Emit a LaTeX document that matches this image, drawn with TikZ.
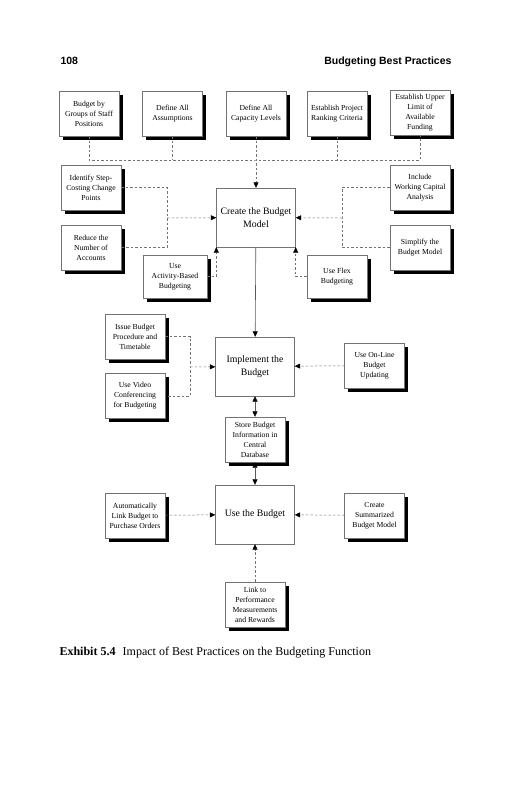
\documentclass[tikz,border=0pt]{standalone}
\usepackage{fontspec}
\setmainfont{Liberation Serif}
\newfontfamily\headfont{Liberation Sans}
\usetikzlibrary{arrows.meta,shadows}

\begin{document}
\begin{tikzpicture}[x=1pt,y=-1pt]
\tikzset{
  practice/.style={rectangle,draw=black!55,line width=0.4pt,fill=white,minimum width=60pt,minimum height=45pt,align=center,inner sep=1pt,font=\fontsize{7.7}{10}\selectfont,
    drop shadow={shadow xshift=3.5pt,shadow yshift=-3.5pt,opacity=1,fill=black}},
  stage/.style={rectangle,draw=black!55,line width=0.4pt,fill=white,minimum width=79pt,minimum height=59pt,align=center,inner sep=1pt,font=\fontsize{9.8}{13}\selectfont},
  dashline/.style={draw=black!55,line width=0.5pt,dash pattern=on 2.5pt off 2pt},
  dasharrow/.style={dashline,-{Triangle[length=5.5pt,width=5pt,black]}},
  solidarrow/.style={draw=black!65,line width=0.6pt,-{Triangle[length=5.5pt,width=5pt,black]}},
  twoway/.style={draw=black!65,line width=0.6pt,{Triangle[length=5.5pt,width=5pt,black]}-{Triangle[length=5.5pt,width=5pt,black]}}
}
\useasboundingbox (0,0) rectangle (531,800);
\node[anchor=base west,font=\headfont\bfseries\fontsize{10.5}{12}\selectfont] (n_page) at (57,64) {108};
\node[anchor=base east,font=\headfont\bfseries\fontsize{10.5}{12}\selectfont] (n_head) at (455,64) {Budgeting Best Practices};
\node[practice] (n_staff) at (89,113.5) {Budget by\\Groups of Staff\\Positions};
\node[practice] (n_assump) at (172.5,113.5) {Define All\\Assumptions};
\node[practice] (n_capacity) at (256,113.5) {Define All\\Capacity Levels};
\node[practice] (n_ranking) at (337,113.5) {Establish Project\\Ranking Criteria};
\node[practice] (n_funding) at (420,112.5) {Establish Upper\\Limit of\\Available\\Funding};
\node[stage] (n_create) at (256,217.5) {Create the Budget\\Model};
\node[practice] (n_step) at (91,187.5) {Identify Step-\\Costing Change\\Points};
\node[practice] (n_accounts) at (91,247.5) {Reduce the\\Number of\\Accounts};
\node[practice,minimum width=64pt,minimum height=43pt] (n_abc) at (175,276.5) {Use\\Activity-Based\\Budgeting};
\node[practice,minimum height=43pt] (n_flex) at (337,276.5) {Use Flex\\Budgeting};
\node[practice] (n_workcap) at (420,187.5) {Include\\Working Capital\\Analysis};
\node[practice] (n_simplify) at (420,247.5) {Simplify the\\Budget Model};
\node[stage] (n_implement) at (255,366.5) {Implement the\\Budget};
\node[practice] (n_issue) at (135,336.5) {Issue Budget\\Procedure and\\Timetable};
\node[practice] (n_video) at (135,396) {Use Video\\Conferencing\\for Budgeting};
\node[practice] (n_online) at (374.5,365.5) {Use On-Line\\Budget\\Updating};
\node[practice] (n_store) at (255,439.5) {Store Budget\\Information in\\Central\\Database};
\node[stage] (n_use) at (255,514.5) {Use the Budget};
\node[practice] (n_auto) at (135,515.5) {Automatically\\Link Budget to\\Purchase Orders};
\node[practice] (n_summary) at (374.5,515.5) {Create\\Summarized\\Budget Model};
\node[practice] (n_perf) at (255,604.5) {Link to\\Performance\\Measurements\\and Rewards};
\node[anchor=base west,font=\fontsize{12}{14}\selectfont] (n_caption) at (56,655) {\textbf{Exhibit 5.4}\hspace{0.6em}Impact of Best Practices on the Budgeting Function};
\coordinate (j_top) at (256,160);
\coordinate (j_left) at (167,218);
\coordinate (j_right) at (342,218);
\coordinate (j_impl) at (190,367);
\draw[dashline] (n_staff) |- (j_top) -| (n_funding);
\draw[dashline] (n_assump) -- (n_assump |- j_top);
\draw[dashline] (n_ranking) -- (n_ranking |- j_top);
\draw[dasharrow] (n_capacity) -- (n_create);
\draw[dashline] (n_step) -| (j_left) |- (n_accounts);
\draw[dasharrow] (j_left) -- (n_create);
\draw[dashline] (n_workcap) -| (j_right) |- (n_simplify);
\draw[dasharrow] (j_right) -- (n_create);
\draw[dasharrow] (n_abc.east) -| (n_create.south west);
\draw[dasharrow] (n_flex.west) -| (n_create.south east);
\draw[solidarrow] (n_create) -- (n_implement);
\draw[dashline] (n_issue) -| (j_impl) |- (n_video);
\draw[dasharrow] (j_impl) -- (n_implement);
\draw[dasharrow] (n_online) -- (n_implement);
\draw[twoway] (n_implement) -- (n_store);
\draw[twoway] (n_store) -- (n_use);
\draw[dasharrow] (n_auto) -- (n_use);
\draw[dasharrow] (n_summary) -- (n_use);
\draw[dasharrow] (n_perf) -- (n_use);
\end{tikzpicture}
\end{document}
